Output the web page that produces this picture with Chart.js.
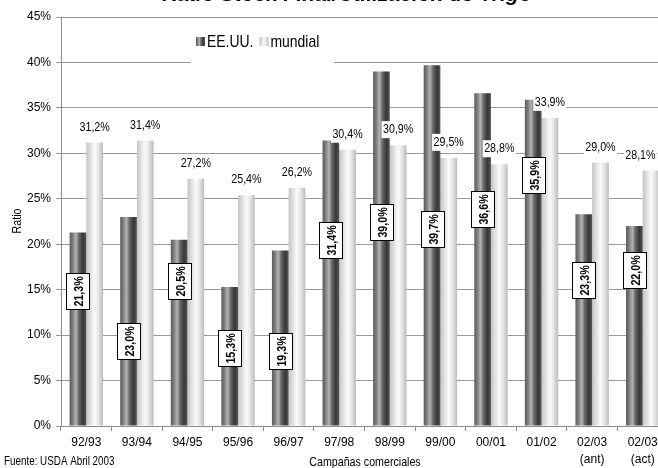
<!DOCTYPE html>
<html><head><meta charset="utf-8">
<script src="https://cdn.jsdelivr.net/npm/chart.js@4/dist/chart.umd.min.js"></script>
<style>
html,body{margin:0;padding:0;background:#fff;overflow:hidden;width:658px;height:468px}
#wrap{position:absolute;left:0;top:0;width:680px;height:468px}
</style>
</head><body><div id="wrap"><canvas id="c" width="680" height="468"></canvas></div>
<script>
// ---- data ----
const campaigns = ['92/93','93/94','94/95','95/96','96/97','97/98','98/99','99/00','00/01','01/02',['02/03','(ant)'],['02/03','(act)']];
const eeuu    = [21.3, 23.0, 20.5, 15.3, 19.3, 31.4, 39.0, 39.7, 36.6, 35.9, 23.3, 22.0];
const mundial = [31.2, 31.4, 27.2, 25.4, 26.2, 30.4, 30.9, 29.5, 28.8, 33.9, 29.0, 28.1];
const yTickLabels = ['0%','5%','10%','15%','20%','25%','30%','35%','40%','45%'];
const seriesNames = ['EE.UU.','mundial'];
// axis value (in %) where each EE.UU. label box is placed
const eeuuLabelAt = [14.8, 9.3, 16.0, 8.6, 8.3, 20.5, 22.4, 21.7, 23.9, 27.6, 16.1, 17.2];

const FONT = '"Liberation Sans Narrow","Arial Narrow","Liberation Sans",Arial,sans-serif';
const NARROW = 0.82;   // horizontal squeeze to imitate a narrow face
const CAT_PCT = 0.66;

function addStops(g, dark){
  if(dark){
    g.addColorStop(0,'#5c5c5c'); g.addColorStop(0.18,'#7c7c7c'); g.addColorStop(0.38,'#b4b4b4');
    g.addColorStop(0.55,'#6a6a6a'); g.addColorStop(0.8,'#363636'); g.addColorStop(1,'#575757');
  } else {
    g.addColorStop(0,'#c4c4c4'); g.addColorStop(0.3,'#e6e6e6'); g.addColorStop(0.5,'#fbfbfb');
    g.addColorStop(0.75,'#e2e2e2'); g.addColorStop(1,'#bababa');
  }
  return g;
}
function barFill(ctx){
  const chart = ctx.chart, xs = chart.scales && chart.scales.x;
  const dark = ctx.datasetIndex === 0;
  if(ctx.dataIndex === undefined || !xs || !chart.chartArea || !isFinite(xs.getPixelForValue(0))) return dark ? '#666' : '#ddd';
  const cx = xs.getPixelForValue(ctx.dataIndex);
  const cw = xs.getPixelForValue(1) - xs.getPixelForValue(0);
  const bw = cw * CAT_PCT / 2;
  const x0 = dark ? cx - bw : cx;
  return addStops(chart.ctx.createLinearGradient(x0,0,x0+bw,0), dark);
}
const fmt = v => v.toFixed(1).replace('.',',') + '%';

function narrowText(c, t, x, y, align, rot){
  c.save(); c.translate(x, y); if(rot) c.rotate(rot); c.scale(NARROW, 1);
  c.textAlign = align; c.fillText(t, 0, 0); c.restore();
}

const extras = {
  id:'extras',
  afterDatasetsDraw(chart){
    const c = chart.ctx, ys = chart.scales.y;
    c.save();
    // mundial labels
    const m1 = chart.getDatasetMeta(1);
    c.font = '13px ' + FONT; c.textBaseline='middle';
    m1.data.forEach((el,i)=>{
      const t = fmt(mundial[i]);
      const w = c.measureText(t).width * NARROW + 3;
      let x = el.x; const y = el.y - 16;
      if(x + w/2 > 657) x = 657 - w/2;
      c.fillStyle='#fff'; c.fillRect(x-w/2, y-8, w, 17);
      c.fillStyle='#000'; narrowText(c, t, x, y+0.5, 'center');
    });
    // EE.UU. labels (rotated, boxed)
    const m0 = chart.getDatasetMeta(0);
    c.font = 'bold 13px ' + FONT;
    m0.data.forEach((el,i)=>{
      const t = fmt(eeuu[i]);
      const y = ys.getPixelForValue(eeuuLabelAt[i]);
      const tw = c.measureText(t).width * NARROW;
      const h = Math.round(tw + 6), w = 23;
      const x = el.x;
      const bx = Math.round(x-w/2), by = Math.round(y-h/2);
      c.fillStyle='#fff'; c.fillRect(bx, by, w, h);
      c.strokeStyle='#000'; c.lineWidth=1;
      c.strokeRect(bx+0.5, by+0.5, w, h);
      c.fillStyle='#000';
      narrowText(c, t, bx + w/2 + 1.5, by + h/2 + 0.5, 'center', -Math.PI/2);
    });
    // legend
    c.fillStyle='#fff'; c.fillRect(191, 28, 143, 37);
    c.font = '17px ' + FONT; c.textBaseline='middle';
    let lx = 196;
    seriesNames.forEach((name,k)=>{
      const g = addStops(c.createLinearGradient(lx,0,lx+9,0), k===0);
      c.fillStyle = g; c.fillRect(lx, 37, 9, 9);
      c.fillStyle='#000'; narrowText(c, name, lx+11, 42, 'left');
      lx += 11 + c.measureText(name).width * NARROW + 6;
    });
    c.restore();
  },
  afterDraw(chart){
    const c = chart.ctx;
    c.save();
    c.fillStyle='#000';
    // title (its top is cut off by the frame)
    c.font = 'italic bold 21px "Liberation Sans",Arial,sans-serif';
    c.textAlign='center'; c.textBaseline='alphabetic';
    c.fillText('Ratio Stock Final/Utilización de Trigo', 347, 1);
    // axis titles and source
    c.font = '13px ' + FONT; c.textBaseline='middle';
    narrowText(c, 'Campañas comerciales', 365, 462, 'center');
    c.font = '12px ' + FONT;
    narrowText(c, 'Fuente: USDA Abril 2003', 4, 462, 'left');
    c.font = '13px ' + FONT;
    narrowText(c, 'Ratio', 17, 221, 'center', -Math.PI/2);
    c.restore();
  }
};

new Chart(document.getElementById('c'), {
  type:'bar',
  data:{
    labels: campaigns,
    datasets:[
      {label: seriesNames[0], data: eeuu, backgroundColor: barFill, borderWidth:0},
      {label: seriesNames[1], data: mundial, backgroundColor: barFill, borderWidth:0}
    ]
  },
  options:{
    responsive:false, animation:false,
    layout:{padding:{top:17,right:12,left:0,bottom:0}},
    datasets:{bar:{barPercentage:1, categoryPercentage:CAT_PCT}},
    plugins:{legend:{display:false}, title:{display:false}, tooltip:{enabled:false}},
    scales:{
      x:{
        grid:{display:true, drawOnChartArea:false, drawTicks:true, tickLength:5, color:'#8c8c8c', offset:true},
        border:{color:'#8c8c8c'},
        ticks:{color:'#000', font:{family:FONT, size:12, lineHeight:1.45}, padding:3, maxRotation:0, autoSkip:false},
        afterFit(s){ s.height = 42; }
      },
      y:{
        min:0, max:45,
        ticks:{stepSize:5, color:'#000', font:{family:FONT, size:12}, padding:5,
               callback:(v)=> yTickLabels[Math.round(v/5)]},
        grid:{color:'#9a9a9a', tickLength:5},
        border:{color:'#8c8c8c'},
        afterFit(s){ s.width = 61; }
      }
    }
  },
  plugins:[extras]
});
</script>
</body></html>
